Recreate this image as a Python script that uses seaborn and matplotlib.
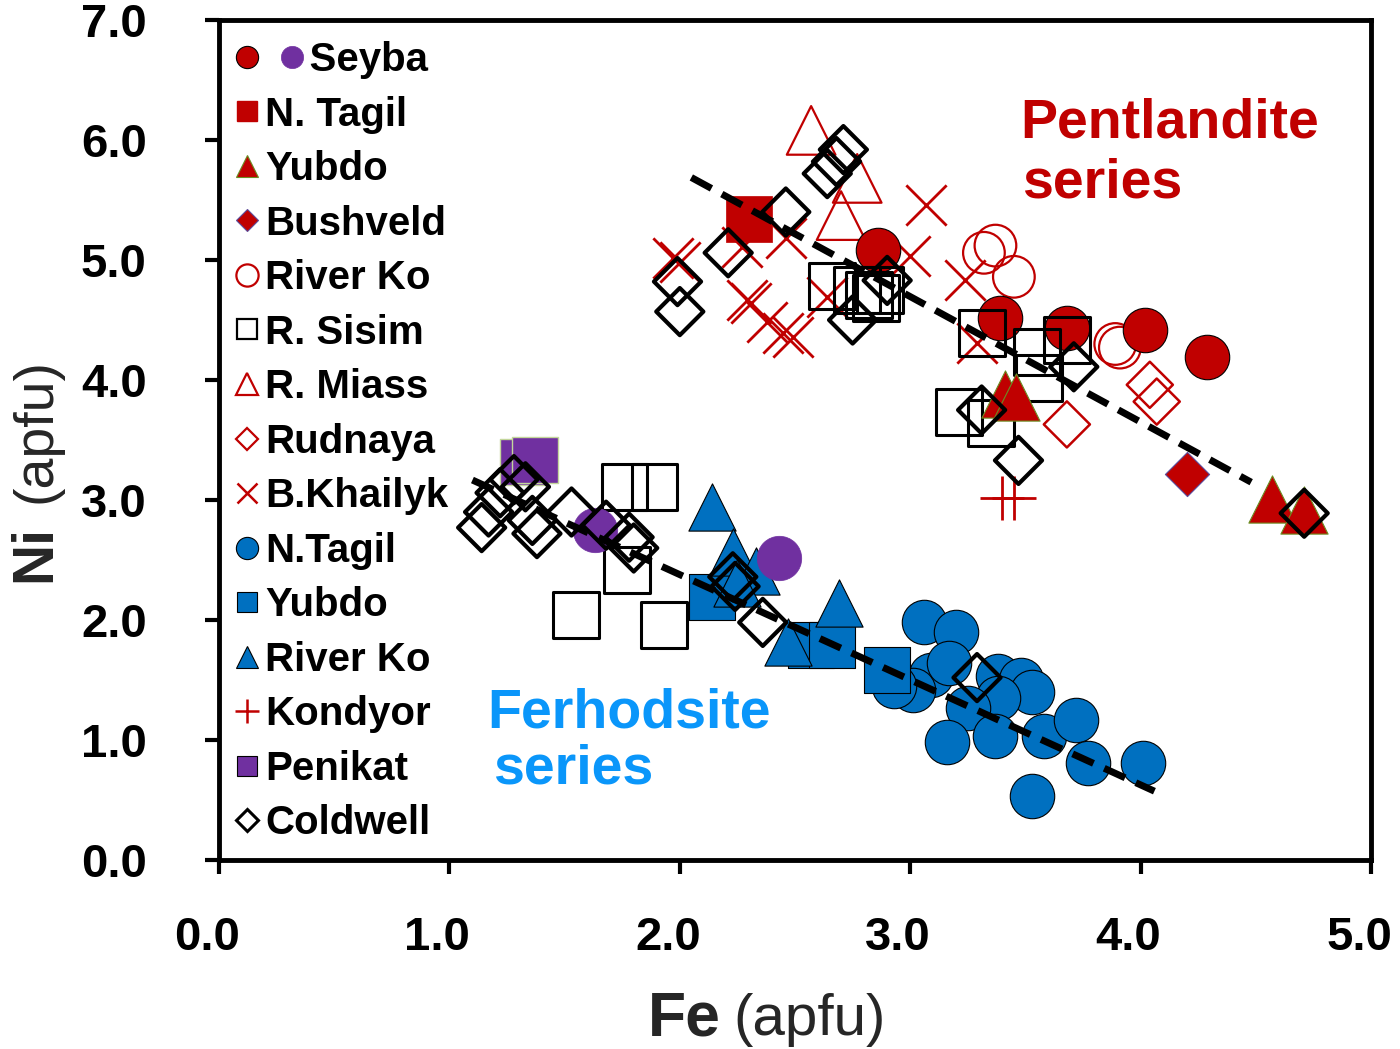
import numpy as np
import matplotlib
matplotlib.use("Agg")
import matplotlib.pyplot as plt
import matplotlib.transforms as mtransforms
from matplotlib.lines import Line2D
from matplotlib.legend_handler import HandlerBase
import seaborn as sns

# ---------------- data (Fe, Ni in apfu) ----------------
seyba_red_fe = [2.86, 3.39, 3.68, 4.02, 4.29]
seyba_red_ni = [5.08, 4.52, 4.43, 4.42, 4.19]
seyba_pur_fe = [1.63, 2.43]
seyba_pur_ni = [2.75, 2.52]
ntagil_p_fe = [2.30]
ntagil_p_ni = [5.34]
yubdo_p_fe = [3.41, 3.46, 4.57, 4.71]
yubdo_p_ni = [3.88, 3.86, 3.01, 2.92]
bushveld_fe = [4.20]
bushveld_ni = [3.22]
riverko_p_fe = [3.32, 3.37, 3.45, 3.89, 3.91]
riverko_p_ni = [5.06, 5.12, 4.86, 4.30, 4.27]
sisim_fe = [2.66, 2.77, 2.82, 2.85, 2.87, 3.31, 3.55, 3.56, 3.68, 3.21, 3.35,
            1.76, 1.89, 1.77, 1.55, 1.93]
sisim_ni = [4.78, 4.75, 4.71, 4.68, 4.75, 4.39, 4.23, 4.02, 4.33, 3.73, 3.64,
            3.11, 3.11, 2.42, 2.04, 1.96]
miass_fe = [2.57, 2.77, 2.70]
miass_ni = [6.08, 5.68, 5.37]
rudnaya_fe = [3.68, 4.04, 4.07]
rudnaya_ni = [3.63, 3.96, 3.82]
khailyk_fe = [3.07, 1.97, 2.00, 2.27, 2.46, 2.29, 2.31, 2.38, 2.45, 2.49,
              2.64, 3.00, 3.24, 3.29]
khailyk_ni = [5.46, 5.02, 4.98, 5.11, 5.18, 4.67, 4.64, 4.48, 4.39, 4.36,
              4.69, 5.03, 4.83, 4.31]
kondyor_fe = [3.40, 3.45]
kondyor_ni = [3.02, 3.02]
ntagil_f_fe = [3.06, 3.20, 3.09, 3.01, 2.93, 3.17, 3.38, 3.48, 3.53, 3.38,
               3.25, 3.16, 3.37, 3.58, 3.72, 3.77, 4.01, 3.53]
ntagil_f_ni = [1.98, 1.90, 1.54, 1.42, 1.45, 1.64, 1.53, 1.50, 1.40, 1.35,
               1.27, 0.98, 1.03, 1.03, 1.17, 0.81, 0.81, 0.53]
yubdo_f_fe = [2.14, 2.57, 2.66, 2.90]
yubdo_f_ni = [2.19, 1.79, 1.79, 1.58]
riverko_f_fe = [2.14, 2.23, 2.33, 2.25, 2.69, 2.47]
riverko_f_ni = [2.94, 2.57, 2.41, 2.31, 2.14, 1.82]
penikat_fe = [1.32, 1.37]
penikat_ni = [3.32, 3.33]
coldwell_fe = [1.28, 1.33, 1.22, 1.17, 1.14, 1.38, 1.36, 1.53, 1.68, 1.78,
               1.80, 2.23, 2.24, 2.36, 3.29,
               1.99, 2.00, 2.21, 2.46, 2.71, 2.68, 2.64, 2.75, 2.90, 3.31,
               3.47, 3.71, 4.71]
coldwell_ni = [3.17, 3.11, 3.06, 2.90, 2.77, 2.72, 2.83, 2.90, 2.79, 2.69,
               2.60, 2.36, 2.28, 1.98, 1.52,
               4.82, 4.57, 5.06, 5.40, 5.92, 5.82, 5.72, 4.50, 4.83, 3.75,
               3.33, 4.11, 2.89]

# trend lines: x range, intercept, slope
pent_fit_x = [2.05, 4.48]
pent_fit_ab = [7.83, -1.045]
ferh_fit_x = [1.10, 4.06]
ferh_fit_ab = [4.13, -0.876]

legend_labels = ["    Seyba", "N. Tagil", "Yubdo", "Bushveld", "River Ko",
                 "R. Sisim", "R. Miass", "Rudnaya", "B.Khailyk", "N.Tagil",
                 "Yubdo", "River Ko", "Kondyor", "Penikat", "Coldwell"]
xticks = [0, 1, 2, 3, 4, 5]
yticks = [0, 1, 2, 3, 4, 5, 6, 7]

# ---------------- style ----------------
RED = "#C00000"
BLUE = "#0070C0"
PURPLE = "#7030A0"
TXTBLUE = "#0A96FA"

sns.set_theme(style="ticks")
plt.rcParams['font.family'] = ['Liberation Sans', 'DejaVu Sans']

fig = plt.figure(figsize=(14, 10.49), dpi=100)
ax = fig.add_axes([219 / 1400, 1 - 860 / 1049, (1371 - 219) / 1400, (860 - 20) / 1049])


def sc(x, y, **kw):
    sns.scatterplot(x=x, y=y, ax=ax, legend=False, **kw)


# open / background series
sc(khailyk_fe, khailyk_ni, marker='x', s=841, color=RED, linewidth=2, zorder=2)
sc(kondyor_fe, kondyor_ni, marker='+', s=1024, color=RED, linewidth=2, zorder=2)
sc(riverko_p_fe, riverko_p_ni, marker='o', s=900, facecolor='none',
   edgecolor=RED, linewidth=1.6, zorder=2)
sc(miass_fe, miass_ni, marker='^', s=1225, facecolor='none',
   edgecolor=RED, linewidth=1.6, zorder=2)
sc(rudnaya_fe, rudnaya_ni, marker='D', s=552, facecolor='none',
   edgecolor=RED, linewidth=1.8, zorder=2)
sc(ntagil_p_fe, ntagil_p_ni, marker='s', s=1089, color=RED,
   edgecolor=RED, linewidth=0.5, zorder=3)
sc(seyba_red_fe, seyba_red_ni, marker='o', s=1024, color=RED,
   edgecolor='black', linewidth=0.8, zorder=3)
sc(ntagil_f_fe, ntagil_f_ni, marker='o', s=1024, color=BLUE,
   edgecolor='black', linewidth=0.8, zorder=3)
sc(yubdo_f_fe, yubdo_f_ni, marker='s', s=1089, color=BLUE,
   edgecolor='black', linewidth=0.8, zorder=3)
sc(riverko_f_fe, riverko_f_ni, marker='^', s=1156, color=BLUE,
   edgecolor='black', linewidth=0.8, zorder=3)
sc(sisim_fe, sisim_ni, marker='s', s=1089, facecolor='none',
   edgecolor='black', linewidth=2.2, zorder=4)
sc(yubdo_p_fe, yubdo_p_ni, marker='^', s=1156, color=RED,
   edgecolor='#6B8E23', linewidth=0.8, zorder=4)
sc(bushveld_fe, bushveld_ni, marker='D', s=506, color=RED,
   edgecolor='#5B4B9B', linewidth=0.8, zorder=4)
sc(penikat_fe, penikat_ni, marker='s', s=1089, color=PURPLE,
   edgecolor='#C3D69B', linewidth=1.0, zorder=4)
sc(seyba_pur_fe, seyba_pur_ni, marker='o', s=1024, color=PURPLE,
   edgecolor=PURPLE, linewidth=0.5, zorder=4)
sc(coldwell_fe, coldwell_ni, marker='D', s=576, facecolor='none',
   edgecolor='black', linewidth=3.0, zorder=5)

# dashed trend lines
for xs, (a, b) in [(pent_fit_x, pent_fit_ab), (ferh_fit_x, ferh_fit_ab)]:
    xs = np.array(xs)
    sns.lineplot(x=xs, y=a + b * xs, ax=ax, color='black', linewidth=5,
                 linestyle=(0, (3.3, 1.7)), zorder=6, legend=False)

# ---------------- axes ----------------
ax.set_xlim(0, 5)
ax.set_ylim(0, 7)
ax.set_xticks(xticks)
ax.set_yticks(yticks)
ax.set_xticklabels([f"{v:.1f}" for v in xticks])
ax.set_yticklabels([f"{v:.1f}" for v in yticks])
ax.set_xlabel("")
ax.set_ylabel("")
for sp in ax.spines.values():
    sp.set_visible(True)
    sp.set_color('black')
    sp.set_linewidth(3.5)
ax.tick_params(axis='both', direction='out', length=10, width=3, color='black',
               labelsize=34, labelcolor='black', top=False, right=False,
               bottom=True, left=True)
ax.tick_params(axis='y', pad=42)
ax.tick_params(axis='x', pad=30)
shift = mtransforms.ScaledTranslation(-12 / 100, 0, fig.dpi_scale_trans)
for lbl in ax.get_xticklabels():
    lbl.set_fontweight('bold')
    lbl.set_transform(lbl.get_transform() + shift)
for lbl in ax.get_yticklabels():
    lbl.set_fontweight('bold')
ax.grid(False)

# axis titles
fig.text(648 / 1400, 1 - 1035 / 1049, "Fe", fontsize=45, fontweight='bold',
         ha='left', va='baseline')
fig.text(733 / 1400, 1 - 1035 / 1049, "(apfu)", fontsize=42,
         ha='left', va='baseline')
fig.text(50 / 1400, 1 - 582 / 1049, "Ni", fontsize=41, fontweight='bold',
         rotation=90, rotation_mode='anchor', ha='left', va='baseline')
fig.text(50 / 1400, 1 - 503 / 1049, "(apfu)", fontsize=40,
         rotation=90, rotation_mode='anchor', ha='left', va='baseline')

# series annotations
ax.text(3.477, 6.025, "Pentlandite", color=RED, fontsize=40, fontweight='bold',
        ha='left', va='baseline')
ax.text(3.485, 5.525, "series", color=RED, fontsize=40, fontweight='bold',
        ha='left', va='baseline')
ax.text(1.163, 1.10, "Ferhodsite", color=TXTBLUE, fontsize=40, fontweight='bold',
        ha='left', va='baseline')
ax.text(1.19, 0.64, "series", color=TXTBLUE, fontsize=40, fontweight='bold',
        ha='left', va='baseline')


# ---------------- legend ----------------
class PairHandler(HandlerBase):
    def __init__(self, gap, **kw):
        super().__init__(**kw)
        self.gap = gap

    def create_artists(self, legend, orig_handle, xdescent, ydescent,
                       width, height, fontsize, trans):
        arts = []
        for i, h in enumerate(orig_handle):
            ln = Line2D([width / 2 - xdescent + i * self.gap],
                        [height / 2 - ydescent], linestyle='none',
                        marker=h.get_marker(), markersize=h.get_markersize(),
                        markerfacecolor=h.get_markerfacecolor(),
                        markeredgecolor=h.get_markeredgecolor(),
                        markeredgewidth=h.get_markeredgewidth())
            ln.set_transform(trans)
            arts.append(ln)
        return arts


def mk(marker, fc, ec, ms=16, mew=1.0):
    return Line2D([], [], linestyle='none', marker=marker, markersize=ms,
                  markerfacecolor=fc, markeredgecolor=ec, markeredgewidth=mew)


handles = [
    (mk('o', RED, 'black', 16, 0.8), mk('o', PURPLE, PURPLE, 16, 0.5)),
    mk('s', RED, RED, 15),
    mk('^', RED, '#6B8E23', 16, 0.8),
    mk('D', RED, '#5B4B9B', 11, 0.8),
    mk('o', 'none', RED, 16, 1.6),
    mk('s', 'none', 'black', 15, 1.6),
    mk('^', 'none', RED, 16, 1.6),
    mk('D', 'none', RED, 11, 1.6),
    mk('x', RED, RED, 15, 1.8),
    mk('o', BLUE, 'black', 16, 0.8),
    mk('s', BLUE, 'black', 15, 0.8),
    mk('^', BLUE, 'black', 16, 0.8),
    mk('+', RED, RED, 17, 1.8),
    mk('s', PURPLE, 'black', 15, 0.8),
    mk('D', 'none', 'black', 11, 2.2),
]
leg = ax.legend(handles, legend_labels, handler_map={tuple: PairHandler(32)},
                loc='upper left', bbox_to_anchor=(0.014, 0.975),
                frameon=False, borderpad=0, borderaxespad=0,
                handlelength=0.6, handletextpad=0.15, labelspacing=0.41,
                prop={'weight': 'bold', 'size': 29})
for t in leg.get_texts():
    t.set_color('black')

fig.savefig("out.png", dpi=100, facecolor='white')
